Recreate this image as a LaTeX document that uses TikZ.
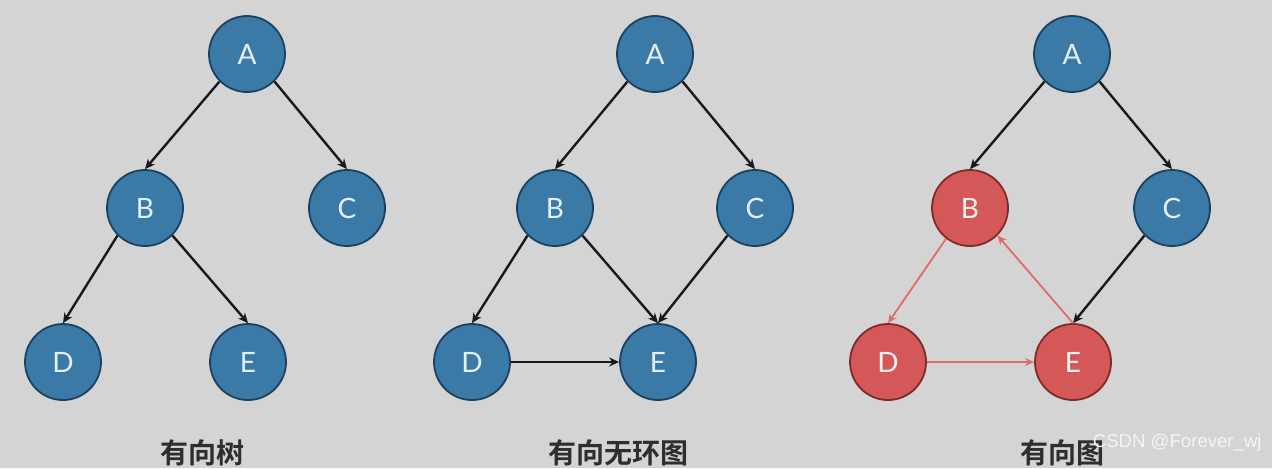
\documentclass[tikz,border=0pt]{standalone}
\usepackage{fontspec}
\setmainfont{Lato}
\newfontfamily\cjk{Noto Sans CJK SC}[BoldFont={Noto Sans CJK SC Bold}]
\newfontfamily\wmfont{Liberation Sans}
\usetikzlibrary{arrows.meta}
\definecolor{bg}{HTML}{D4D4D4}
\definecolor{bfill}{HTML}{3B7AA6}
\definecolor{bline}{HTML}{1A4260}
\definecolor{rfill}{HTML}{D45858}
\definecolor{rline}{HTML}{7E2A2A}
\definecolor{redge}{HTML}{E06B6F}
\definecolor{ltxt}{HTML}{E4F0F7}
\definecolor{captxt}{HTML}{2E2E2E}
\begin{document}
\begin{tikzpicture}[x=0.5pt,y=-0.5pt,
  vtx/.style={circle,minimum size=38pt,inner sep=0pt,line width=0.9pt,
    font=\fontsize{14}{16}\selectfont,text=ltxt},
  bv/.style={vtx,fill=bfill,draw=bline},
  rv/.style={vtx,fill=rfill,draw=rline,text=white!92!rfill},
  edge/.style={line width=1.2pt,draw=black!90,-{Stealth[length=5pt,width=4.5pt]}},
  redg/.style={line width=0.9pt,draw=redge,-{Stealth[length=4.5pt,width=4pt]}},
  captn/.style={font=\cjk\bfseries\fontsize{14}{16}\selectfont,text=captxt}]
\fill[bg] (0,0) rectangle (1272,468);
\useasboundingbox (0,0) rectangle (1272,468);
% panel 1
\node[bv] (a1) at (247,54) {A};
\node[bv] (b1) at (145,208) {B};
\node[bv] (c1) at (347,208) {C};
\node[bv] (d1) at (63,362) {D};
\node[bv] (e1) at (248,362) {E};
\draw[edge] (a1.225) -- (b1.north);
\draw[edge] (a1.315) -- (c1.north);
\draw[edge] (b1.225) -- (d1.north);
\draw[edge] (b1.315) -- (e1.north);
\node[captn] (t1) at (202,453) {有向树};
% panel 2
\node[bv] (a2) at (655,54) {A};
\node[bv] (b2) at (555,208) {B};
\node[bv] (c2) at (755,208) {C};
\node[bv] (d2) at (472,362) {D};
\node[bv] (e2) at (658,362) {E};
\draw[edge] (a2.225) -- (b2.north);
\draw[edge] (a2.315) -- (c2.north);
\draw[edge] (b2.225) -- (d2.north);
\draw[edge] (b2.315) -- (e2.north);
\draw[edge] (c2.225) -- (e2.north);
\draw[edge] (d2.east) -- (e2.west);
\node[captn] (t2) at (618,453) {有向无环图};
% panel 3
\node[bv] (a3) at (1072,54) {A};
\node[rv] (b3) at (970,208) {B};
\node[bv] (c3) at (1172,208) {C};
\node[rv] (d3) at (888,362) {D};
\node[rv] (e3) at (1073,362) {E};
\draw[edge] (a3.225) -- (b3.north);
\draw[edge] (a3.315) -- (c3.north);
\draw[edge] (c3.225) -- (e3.north);
\draw[redg] (b3.232) -- (d3.north);
\draw[redg] (e3.north) -- (b3.315);
\draw[redg] (d3.east) -- (e3.west);
\node[captn] (t3) at (1062,453) {有向图};
\node[font=\wmfont\fontsize{9.3}{11}\selectfont,text=white!96!black,anchor=east,inner sep=0pt] (wm) at (1262,443) {CSDN @Forever\_wj};
\end{tikzpicture}
\end{document}
